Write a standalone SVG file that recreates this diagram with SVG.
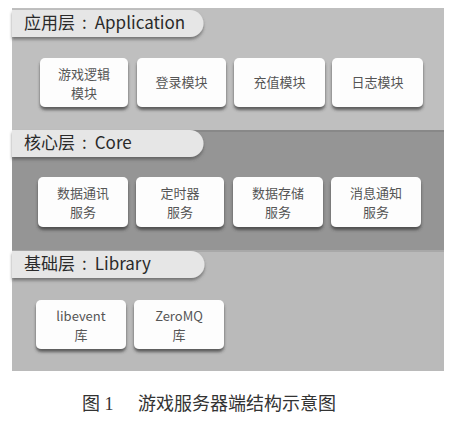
<svg xmlns="http://www.w3.org/2000/svg" width="452" height="428" viewBox="0 0 452 428">
<defs>
<filter id="sh" x="-10%" y="-20%" width="120%" height="150%">
<feDropShadow dx="0" dy="3" stdDeviation="1.8" flood-color="#333" flood-opacity="0.7"/>
</filter>
<filter id="psh" x="-10%" y="-30%" width="120%" height="170%">
<feDropShadow dx="0" dy="2.5" stdDeviation="1.5" flood-color="#444" flood-opacity="0.6"/>
</filter>
</defs>
<style>
.box{fill:#fdfdfd;filter:url(#sh)}
.pill{fill:#e6e6e6;filter:url(#psh)}
.lab{font-family:"Noto Sans CJK SC","Noto Sans",sans-serif;font-size:17px;fill:#2a2a2a}
.bt{font-family:"Noto Sans CJK SC","Noto Sans",sans-serif;font-size:13px;fill:#555;text-anchor:middle}
.cap{font-family:"Liberation Serif","Noto Sans CJK SC",serif;font-size:18px;fill:#333}
</style>
<rect width="452" height="428" fill="#ffffff"/>
<g id="bands">
<rect x="12" y="8" width="432" height="122" fill="#bfbfbf"/>
<rect x="12" y="130" width="432" height="120" fill="#959595"/>
<rect x="12" y="130" width="432" height="2" fill="#888"/>
<rect x="12" y="250" width="432" height="121" fill="#bababa"/>
<rect x="12" y="250" width="432" height="2" fill="#a8a8a8"/>
</g>
<g id="layer-app">
<path class="pill" d="M12 10 H190 A13.5 13.5 0 0 1 190 37 H12 Z"/>
<text class="lab" x="24" y="29">应用层<tspan dx="7">:</tspan><tspan dx="8">Application</tspan></text>
</g>
<g id="layer-core">
<path class="pill" d="M12 130 H190 A13.5 13.5 0 0 1 190 157 H12 Z"/>
<text class="lab" x="24" y="149">核心层<tspan dx="7">:</tspan><tspan dx="8">Core</tspan></text>
</g>
<g id="layer-lib">
<path class="pill" d="M12 251 H191 A13.5 13.5 0 0 1 191 278 H12 Z"/>
<text class="lab" x="24" y="270">基础层<tspan dx="7">:</tspan><tspan dx="8">Library</tspan></text>
</g>
<g id="n-game"><rect class="box" x="40" y="58" width="88" height="49" rx="5"/><text class="bt" x="84" y="79">游戏逻辑</text><text class="bt" x="84" y="98">模块</text></g>
<g id="n-login"><rect class="box" x="137" y="58" width="89" height="49" rx="5"/><text class="bt" x="181.5" y="87">登录模块</text></g>
<g id="n-charge"><rect class="box" x="234" y="58" width="91" height="49" rx="5"/><text class="bt" x="279.5" y="87">充值模块</text></g>
<g id="n-log"><rect class="box" x="332" y="58" width="91" height="49" rx="5"/><text class="bt" x="377.5" y="87">日志模块</text></g>
<g id="n-comm"><rect class="box" x="38" y="177" width="90" height="50" rx="5"/><text class="bt" x="83" y="198">数据通讯</text><text class="bt" x="83" y="217">服务</text></g>
<g id="n-timer"><rect class="box" x="136" y="177" width="88" height="50" rx="5"/><text class="bt" x="180" y="198">定时器</text><text class="bt" x="180" y="217">服务</text></g>
<g id="n-store"><rect class="box" x="233" y="177" width="90" height="50" rx="5"/><text class="bt" x="278" y="198">数据存储</text><text class="bt" x="278" y="217">服务</text></g>
<g id="n-notify"><rect class="box" x="331" y="177" width="90" height="50" rx="5"/><text class="bt" x="376" y="198">消息通知</text><text class="bt" x="376" y="217">服务</text></g>
<g id="n-libevent"><rect class="box" x="36" y="300" width="90" height="49" rx="5"/><text class="bt" x="81" y="321">libevent</text><text class="bt" x="81" y="340">库</text></g>
<g id="n-zeromq"><rect class="box" x="134" y="300" width="90" height="49" rx="5"/><text class="bt" x="179" y="321">ZeroMQ</text><text class="bt" x="179" y="340">库</text></g>
<g id="connectors"></g>
<text class="cap" x="82" y="410">图 1<tspan x="138">游戏服务器端结构示意图</tspan></text>
</svg>
